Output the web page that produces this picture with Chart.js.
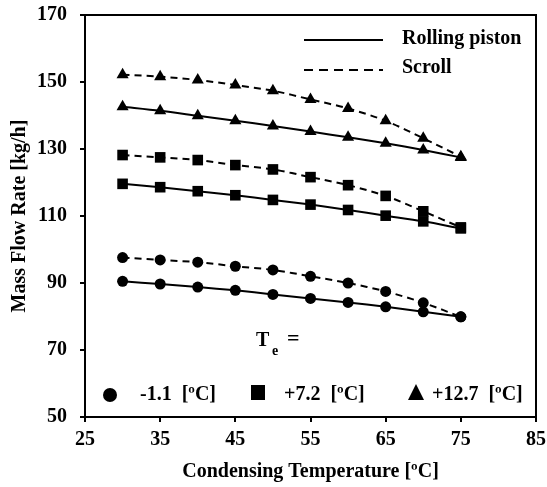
<!DOCTYPE html>
<html>
<head>
<meta charset="utf-8">
<script src="https://cdn.jsdelivr.net/npm/chart.js@4.4.0/dist/chart.umd.min.js"></script>
<style>
  html, body { margin: 0; padding: 0; background: #fff; }
  #wrap { width: 547px; height: 487px; }
</style>
</head>
<body>
<div id="wrap"><canvas id="chart" width="547" height="487"></canvas></div>
<script>
// Condensing temperature [ºC]
const tempC = [30, 35, 40, 45, 50, 55, 60, 65, 70, 75];

// Mass flow rate [kg/h], Te = -1.1 ºC
const rollingLow = [90.5, 89.7, 88.8, 87.8, 86.6, 85.4, 84.2, 82.9, 81.4, 79.9];
const scrollLow = [97.6, 96.9, 96.2, 95.0, 93.9, 92.0, 90.0, 87.5, 84.1, 79.9];
// Te = +7.2 ºC
const rollingMid = [119.6, 118.6, 117.4, 116.2, 114.8, 113.4, 111.8, 110.1, 108.4, 106.3];
const scrollMid = [128.2, 127.5, 126.7, 125.2, 123.9, 121.6, 119.2, 116.0, 111.4, 106.6];
// Te = +12.7 ºC
const rollingHigh = [142.6, 141.4, 139.9, 138.4, 136.9, 135.2, 133.5, 131.7, 129.7, 127.5];
const scrollHigh = [152.2, 151.6, 150.6, 149.1, 147.4, 144.8, 142.1, 138.4, 133.2, 127.7];

const xTicks = [25, 35, 45, 55, 65, 75, 85];
const yTicks = [50, 70, 90, 110, 130, 150, 170];

const serif = '"Liberation Serif", "Times New Roman", serif';
const fontSize = 20;

function series(values, shape, dashed) {
    const radius = { circle: 5.5, rect: 7.5, triangle: 7 }[shape];
    return {
        data: tempC.map((t, i) => ({ x: t, y: values[i] })),
        showLine: true,
        borderColor: '#000',
        backgroundColor: '#000',
        borderWidth: 2,
        borderDash: dashed ? [7, 5] : [],
        pointStyle: shape,
        pointRadius: radius,
        pointBorderWidth: 0,
        tension: 0.3,
        fill: false
    };
}

// frame, line-style legend and Te legend drawn on top
const annotations = {
    id: 'annotations',
    afterDraw(chart) {
        const ctx = chart.ctx;
        const a = chart.chartArea;
        ctx.save();
        ctx.strokeStyle = '#000';
        ctx.lineWidth = 2;
        ctx.strokeRect(a.left, a.top, a.right - a.left, a.bottom - a.top);

        ctx.fillStyle = '#000';
        ctx.textBaseline = 'alphabetic';
        ctx.font = `bold ${fontSize}px ${serif}`;

        // line style legend
        ctx.beginPath();
        ctx.moveTo(304, 40); ctx.lineTo(383, 40);
        ctx.stroke();
        ctx.setLineDash([9, 6]);
        ctx.beginPath();
        ctx.moveTo(304, 70); ctx.lineTo(383, 70);
        ctx.stroke();
        ctx.setLineDash([]);
        ctx.fillText('Rolling piston', 402, 44);
        ctx.fillText('Scroll', 402, 73);

        // Te =
        ctx.font = `bold 20px ${serif}`;
        ctx.fillText('T', 256, 346);
        ctx.font = `bold 14px ${serif}`;
        ctx.fillText('e', 272, 355);
        ctx.font = `bold 22px ${serif}`;
        ctx.fillText('=', 287, 345);

        // evaporating temperature markers
        ctx.beginPath();
        ctx.arc(110, 395, 7, 0, Math.PI * 2);
        ctx.fill();
        ctx.fillRect(251, 385, 14, 15);
        ctx.beginPath();
        ctx.moveTo(416, 384); ctx.lineTo(424, 400); ctx.lineTo(408, 400);
        ctx.closePath();
        ctx.fill();
        ctx.font = `bold ${fontSize}px ${serif}`;
        ctx.fillText('-1.1  [ºC]', 140, 400);
        ctx.fillText('+7.2  [ºC]', 284, 400);
        ctx.fillText('+12.7  [ºC]', 432, 400);
        ctx.restore();
    }
};

const tickFont = { family: serif, weight: 'bold', size: fontSize };

new Chart(document.getElementById('chart').getContext('2d'), {
    type: 'scatter',
    data: {
        datasets: [
            series(rollingLow, 'circle', false),
            series(scrollLow, 'circle', true),
            series(rollingMid, 'rect', false),
            series(scrollMid, 'rect', true),
            series(rollingHigh, 'triangle', false),
            series(scrollHigh, 'triangle', true)
        ]
    },
    options: {
        responsive: false,
        animation: false,
        layout: { padding: { top: 15, right: 11, left: 0, bottom: 0 } },
        plugins: { legend: { display: false }, tooltip: { enabled: false } },
        scales: {
            x: {
                type: 'linear',
                min: 25, max: 85,
                afterBuildTicks: s => { s.ticks = xTicks.map(v => ({ value: v })); },
                afterFit: s => { s.height = 70; s.paddingLeft = 0; s.paddingRight = 0; },
                grid: { drawOnChartArea: false, drawTicks: true, tickLength: 5, color: '#000', lineWidth: 2 },
                border: { color: '#000', width: 2 },
                ticks: { color: '#000', font: tickFont, padding: 6, maxRotation: 0 },
                title: {
                    display: true, text: 'Condensing Temperature [ºC]', color: '#000',
                    font: tickFont, padding: { top: 0, bottom: 3 }
                }
            },
            y: {
                type: 'linear',
                min: 50, max: 170,
                afterBuildTicks: s => { s.ticks = yTicks.map(v => ({ value: v })); },
                afterFit: s => { s.width = 85; s.paddingTop = 0; s.paddingBottom = 0; },
                grid: { drawOnChartArea: false, drawTicks: true, tickLength: 5, color: '#000', lineWidth: 2 },
                border: { color: '#000', width: 2 },
                ticks: { color: '#000', font: tickFont, padding: 13 },
                title: {
                    display: true, text: 'Mass Flow Rate [kg/h]', color: '#000',
                    font: tickFont, padding: { top: 8, bottom: 0 }
                }
            }
        }
    },
    plugins: [annotations]
});
</script>
</body>
</html>
